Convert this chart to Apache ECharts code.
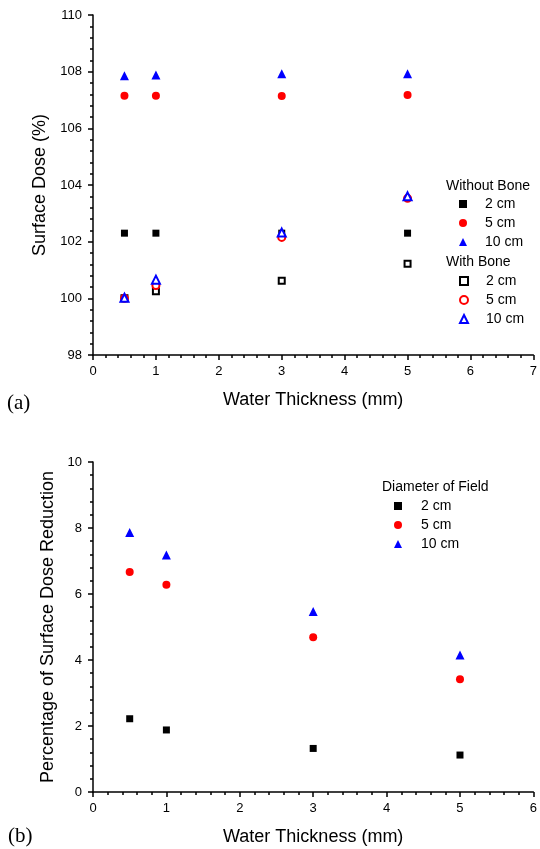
<!DOCTYPE html>
<html>
<head>
<meta charset="utf-8">
<script src="https://cdn.jsdelivr.net/npm/echarts@6/dist/echarts.min.js"></script>
<style>
  html, body { margin: 0; padding: 0; background: #fff; }
  #main { width: 540px; height: 849px; }
</style>
</head>
<body>
<div id="main"></div>
<script>
// water thickness (mm), shared by both panels
const thickness = [0.5, 1, 3, 5];

// (a) surface dose (%)
const noBone2 = [102.3, 102.3, 102.3, 102.3];
const noBone5 = [107.15, 107.15, 107.14, 107.18];
const noBone10 = [107.86, 107.88, 107.93, 107.93];
const bone2 = [100.0, 100.25, 100.62, 101.22];
const bone5 = [100.0, 100.45, 102.15, 103.53];
const bone10 = [100.02, 100.66, 102.32, 103.6];

// (b) percentage of surface dose reduction
const drop2 = [2.22, 1.88, 1.32, 1.12];
const drop5 = [6.67, 6.28, 4.69, 3.42];
const drop10 = [7.86, 7.18, 5.47, 4.15];

const FONT = 'Arial, "Liberation Sans", sans-serif';
const BLACK = '#000000', RED = '#ff0000', BLUE = '#0000ff';

const pts = ys => thickness.map((x, i) => [x, ys[i]]);

function xAxisOf(grid, max) {
  return {
    gridIndex: grid, type: 'value', min: 0, max: max, interval: 1,
    name: 'Water Thickness (mm)', nameLocation: 'middle', nameGap: 36,
    nameTextStyle: { fontSize: 18, color: BLACK, fontFamily: FONT },
    axisLine: { lineStyle: { color: BLACK, width: 1.5 } },
    axisTick: { length: 5, lineStyle: { color: BLACK, width: 1.5 } },
    minorTick: { show: true, splitNumber: 5, length: 3, lineStyle: { color: BLACK, width: 1.5 } },
    axisLabel: { fontSize: 13, color: BLACK, fontFamily: FONT, margin: 10 },
    splitLine: { show: false }
  };
}
function yAxisOf(grid, min, max, name, gap) {
  return {
    gridIndex: grid, type: 'value', min: min, max: max, interval: 2,
    name: name, nameLocation: 'middle', nameGap: gap,
    nameTextStyle: { fontSize: 18, color: BLACK, fontFamily: FONT },
    axisLine: { show: true, lineStyle: { color: BLACK, width: 1.5 } },
    axisTick: { show: true, length: 5, lineStyle: { color: BLACK, width: 1.5 } },
    minorTick: { show: true, splitNumber: 5, length: 3, lineStyle: { color: BLACK, width: 1.5 } },
    axisLabel: { fontSize: 13, color: BLACK, fontFamily: FONT, margin: 11 },
    splitLine: { show: false }
  };
}
function scatter(name, ax, data, symbol, size, color, hollow) {
  return {
    name: name, type: 'scatter', xAxisIndex: ax, yAxisIndex: ax,
    data: data, symbol: symbol, symbolSize: size,
    itemStyle: hollow
      ? { color: color, borderColor: color, borderWidth: 1.5, opacity: 1 }
      : { color: color, opacity: 1 },
    emphasis: { disabled: true }
  };
}
function legendOf(names, left, top, pad) {
  return {
    data: names, orient: 'vertical', left: left, top: top,
    itemWidth: 8, itemHeight: 8, itemGap: 5, padding: 0,
    selectedMode: false,
    formatter: n => n.split(' (')[0],
    textStyle: { fontSize: 14, lineHeight: 14, color: BLACK, fontFamily: FONT, padding: [0, 0, 0, pad] }
  };
}
function label(text, left, top, size, family) {
  return {
    text: text, left: left, top: top, padding: 0,
    textStyle: { fontSize: size, lineHeight: size + 2, color: BLACK, fontWeight: 'normal', fontFamily: family || FONT }
  };
}

const chart = echarts.init(document.getElementById('main'));
chart.setOption({
  animation: false,
  backgroundColor: '#fff',
  title: [
    label('Without Bone', 446, 178, 14),
    label('With Bone', 446, 254, 14),
    label('Diameter of Field', 382, 479, 14),
    label('(a)', 7, 392, 21, '"Liberation Serif", "Times New Roman", serif'),
    label('(b)', 8, 825, 21, '"Liberation Serif", "Times New Roman", serif')
  ],
  legend: [
    legendOf(['2 cm (no bone)', '5 cm (no bone)', '10 cm (no bone)'], 459, 197, 13),
    legendOf(['2 cm (bone)', '5 cm (bone)', '10 cm (bone)'], 459, 274, 13),
    legendOf(['2 cm', '5 cm', '10 cm'], 394, 499, 14)
  ],
  grid: [
    { left: 93, top: 15, width: 445, height: 340 },
    { left: 93, top: 462, width: 445, height: 330 }
  ],
  xAxis: [xAxisOf(0, 7), xAxisOf(1, 6)],
  yAxis: [
    yAxisOf(0, 98, 110, 'Surface Dose (%)', 34),
    yAxisOf(1, 0, 10, 'Percentage of Surface Dose Reduction', 29)
  ],
  series: [
    scatter('2 cm (no bone)', 0, pts(noBone2), 'rect', 7, BLACK),
    scatter('5 cm (no bone)', 0, pts(noBone5), 'circle', 8, RED),
    scatter('10 cm (no bone)', 0, pts(noBone10), 'triangle', 9, BLUE),
    scatter('2 cm (bone)', 0, pts(bone2), 'emptyRect', 6, BLACK, true),
    scatter('5 cm (bone)', 0, pts(bone5), 'emptyCircle', 7, RED, true),
    scatter('10 cm (bone)', 0, pts(bone10), 'emptyTriangle', 8, BLUE, true),
    scatter('2 cm', 1, pts(drop2), 'rect', 7, BLACK),
    scatter('5 cm', 1, pts(drop5), 'circle', 8, RED),
    scatter('10 cm', 1, pts(drop10), 'triangle', 9, BLUE)
  ]
});
</script>
</body>
</html>
